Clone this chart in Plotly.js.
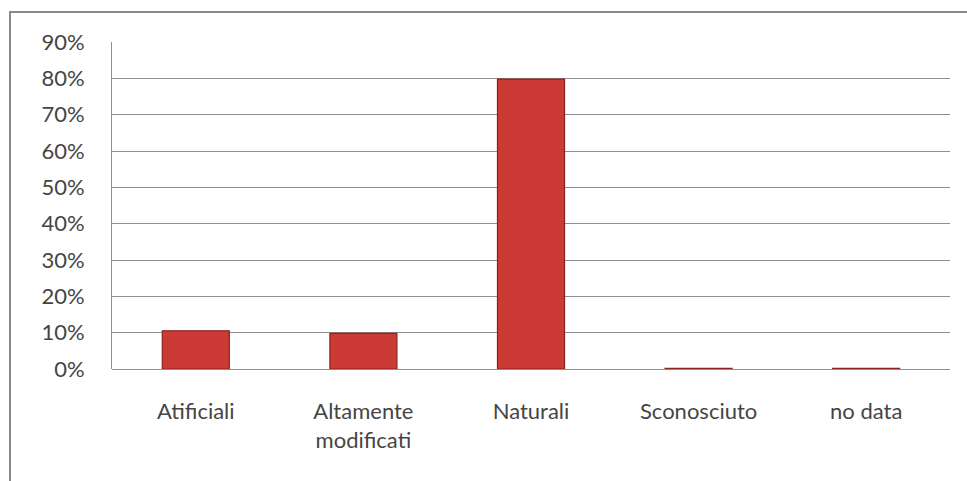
<!DOCTYPE html>
<html>
<head>
<meta charset="utf-8">
<script src="https://cdn.plot.ly/plotly-3.0.1.min.js"></script>
<style>html,body{margin:0;padding:0;background:#fff;}#chart{width:967px;height:481px;}</style>
</head>
<body>
<div id="chart"></div>
<script>
const categories = ["Atificiali", "Altamente<br>modificati", "Naturali", "Sconosciuto", "no data"];
const values = [0.105, 0.098, 0.798, 0.002, 0.002];
const yTickValues = [0, 0.1, 0.2, 0.3, 0.4, 0.5, 0.6, 0.7, 0.8, 0.9];

const trace = {
  type: "bar",
  x: categories,
  y: values,
  marker: {
    color: "#cc3a35",
    line: { color: "#8a2222", width: 1.2 }
  },
  hoverinfo: "skip"
};

const fontFam = "Lato, 'Open Sans', sans-serif";

const layout = {
  width: 967,
  height: 481,
  margin: { l: 112, r: 17, t: 42, b: 112 },
  paper_bgcolor: "#ffffff",
  plot_bgcolor: "#ffffff",
  bargap: 0.6,
  showlegend: false,
  font: { family: fontFam, size: 22, color: "#454545" },
  xaxis: {
    type: "category",
    showgrid: false,
    zeroline: false,
    showline: false,
    ticks: "",
    ticklabelstandoff: 27,
    tickfont: { family: fontFam, size: 22, color: "#454545" }
  },
  yaxis: {
    range: [0, 0.9],
    tickvals: yTickValues,
    tickformat: ".0%",
    showgrid: true,
    gridcolor: "#8f8f8f",
    gridwidth: 1,
    zeroline: true,
    zerolinecolor: "#8f8f8f",
    zerolinewidth: 1,
    showline: true,
    linecolor: "#8f8f8f",
    linewidth: 1,
    ticks: "",
    ticklabelstandoff: 22,
    tickfont: { family: fontFam, size: 22, color: "#454545" }
  },
  shapes: [
    {
      type: "rect", xref: "paper", yref: "paper",
      x0: -0.1217, x1: 1.05, y0: -0.45, y1: 1.0917,
      line: { color: "#8a8a8a", width: 2 },
      fillcolor: "rgba(0,0,0,0)",
      layer: "below"
    }
  ]
};

Plotly.newPlot("chart", [trace], layout, { staticPlot: true, displayModeBar: false });
</script>
</body>
</html>
